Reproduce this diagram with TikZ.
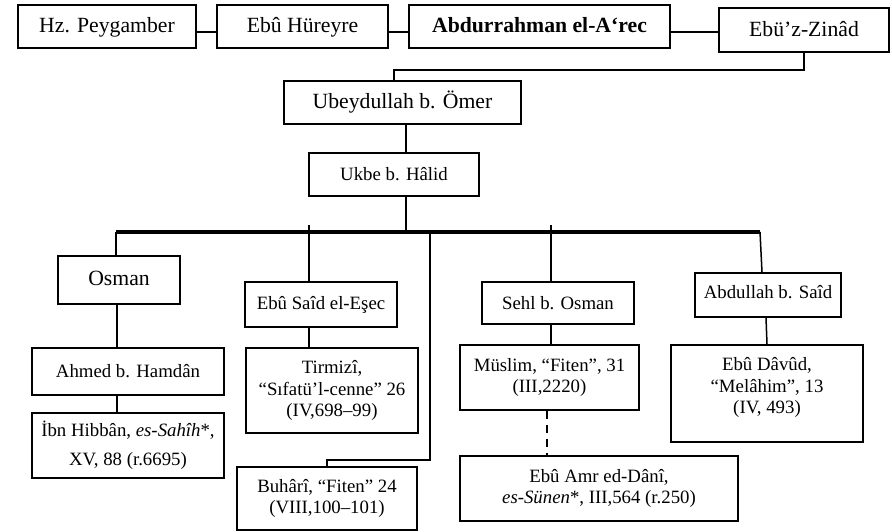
\documentclass[tikz,border=0pt]{standalone}
\usepackage{fontspec}
\setmainfont{Liberation Serif}
\begin{document}
\begin{tikzpicture}[x=0.5pt,y=-0.5pt,
  box/.style={draw,line width=0.75pt,inner sep=0pt,align=center,font=\fontsize{9.4}{10.8}\selectfont},
  big/.style={font=\fontsize{10.85}{13}\selectfont,text height=8.6pt,text depth=2.4pt},
  ln/.style={line width=0.75pt},
  bus/.style={line width=2pt}]
\useasboundingbox (0,0) rectangle (892,531);
% top row
\node[box,big,minimum width=89pt,minimum height=21.5pt] (hz) at (107,26.5) {Hz. Peygamber};
\node[box,big,minimum width=85.5pt,minimum height=21.5pt] (ebu) at (302.5,26.5) {Ebû Hüreyre};
\node[box,big,minimum width=130.5pt,minimum height=21.5pt] (abd) at (539.5,26.5) {\bfseries Abdurrahman el-A‘rec};
\node[box,big,minimum width=85pt,minimum height=22pt] (zin) at (804,30) {Ebü’z-Zinâd};
\node[box,big,minimum width=118.5pt,minimum height=21.5pt] (ubey) at (402.5,102.5) {Ubeydullah b. Ömer};
\node[box,minimum width=85pt,minimum height=21.5pt] (ukbe) at (394,174.5) {Ukbe b. Hâlid};
% second level
\node[box,big,minimum width=61pt,minimum height=24pt,text height=8pt] (osman) at (119,280) {Osman};
\node[box,minimum width=76pt,minimum height=22.5pt] (esec) at (321,304.5) {Ebû Saîd el-Eşec};
\node[box,minimum width=76pt,minimum height=21pt] (sehl) at (558,303) {Sehl b. Osman};
\node[box,minimum width=73pt,minimum height=22pt,text depth=3pt] (abdsaid) at (768,295) {Abdullah b. Saîd};
% third level
\node[box,minimum width=96pt,minimum height=23.5pt] (ahmed) at (128,371.5) {Ahmed b. Hamdân};
\node[box,minimum width=96pt,minimum height=32.5pt] (ibn) at (128,445.5) {İbn Hibbân, \textit{es-Sahîh}*,\\[3.5pt] XV, 88 (r.6695)};
\node[box,minimum width=86pt,minimum height=42.5pt] (tirmizi) at (332,390.5) {Tirmizî,\\ “Sıfatü’l-cenne” 26\\ (IV,698–99)};
\node[box,minimum width=90pt,minimum height=31.5pt] (buhari) at (327,498.5) {Buhârî, “Fiten” 24\\ (VIII,100–101)};
\node[box,minimum width=89.5pt,minimum height=32.5pt] (muslim) at (549.5,377.5) {Müslim, “Fiten”, 31\\ (III,2220)};
\node[box,minimum width=139pt,minimum height=32.5pt] (amr) at (599,488.5) {Ebû Amr ed-Dânî,\\ \textit{es-Sünen}*, III,564 (r.250)};
\node[box,minimum width=96pt,minimum height=48.5pt,text depth=8pt] (davud) at (767,393.5) {Ebû Dâvûd,\\ “Melâhim”, 13\\ (IV, 493)};
% coordinates
\coordinate (j1) at (394,70);
\coordinate (bl) at (116,232);
\coordinate (br) at (760,232);
\coordinate (bm) at (406,232);
\coordinate (be) at (309,225);
\coordinate (bs) at (551,225);
\coordinate (bb) at (430,232);
\coordinate (bk) at (430,460);
\coordinate (bk2) at (327,460);
% connectors
\draw[ln] (hz.east |- 0,32) -- (ebu.west |- 0,32);
\draw[ln] (ebu.east |- 0,32) -- (abd.west |- 0,32);
\draw[ln] (abd.east |- 0,32) -- (zin.west |- 0,32);
\draw[ln] (zin.south) |- (j1) -- (j1 |- ubey.north);
\draw[ln] (406,0 |- ubey.south) -- (406,0 |- ukbe.north);
\draw[ln] (406,0 |- ukbe.south) -- (bm);
\draw[bus] (bl) -- (br);
\draw[ln] (bl) -- (bl |- osman.north);
\draw[ln] (be) -- (be |- esec.north);
\draw[ln] (bs) -- (bs |- sehl.north);
\draw[ln] (bb) -- (bk) -- (bk2) -- (bk2 |- buhari.north);
\draw[ln] (br) -- (762,0 |- abdsaid.north);
\draw[ln] (117,0 |- osman.south) -- (117,0 |- ahmed.north);
\draw[ln] (117,0 |- ahmed.south) -- (117,0 |- ibn.north);
\draw[ln] (309,0 |- esec.south) -- (309,0 |- tirmizi.north);
\draw[ln] (551,0 |- sehl.south) -- (551,0 |- muslim.north);
\draw[ln,dashed,dash pattern=on 4pt off 3pt] (547,0 |- muslim.south) -- (547,0 |- amr.north);
\draw[ln] (766,0 |- abdsaid.south) -- (767,0 |- davud.north);
\end{tikzpicture}
\end{document}
